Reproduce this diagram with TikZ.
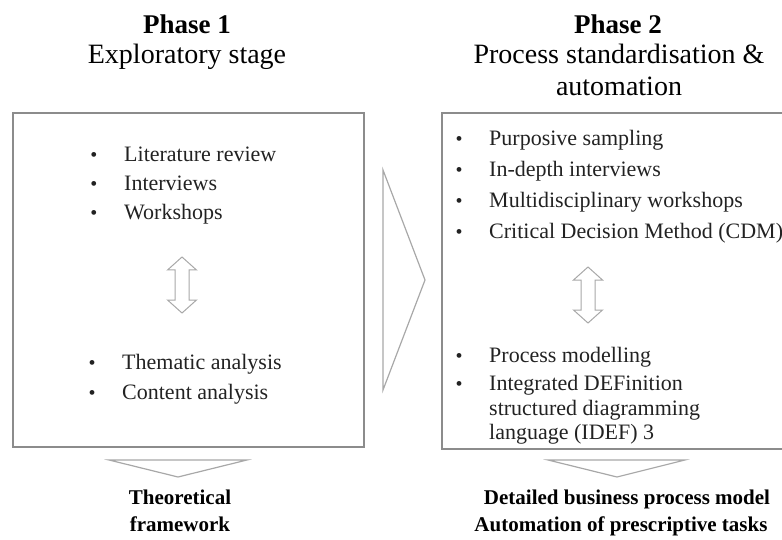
\documentclass[tikz,border=0pt]{standalone}
\usepackage{fontspec}
\setmainfont{Liberation Serif}
\usepackage{tikz}
\usetikzlibrary{positioning}

\definecolor{boxgray}{HTML}{8C8C8C}
\definecolor{arrowgray}{HTML}{A8A8A8}
\definecolor{itemtext}{HTML}{222222}

\tikzset{
  phasebox/.style={draw=boxgray, line width=1.5pt, minimum width=#1, inner sep=0pt},
  item/.style={anchor=base west, inner sep=0pt, text=itemtext, font=\fontsize{22}{26}\selectfont},
  bul/.style={anchor=base, inner sep=0pt, text=itemtext, font=\fontsize{20}{24}\selectfont},
  head/.style={anchor=base, inner sep=0pt, font=\fontsize{28}{33}\selectfont},
  result/.style={anchor=base, inner sep=0pt, font=\bfseries\fontsize{21}{26}\selectfont},
  chevron/.style={draw=arrowgray, line width=1.2pt, line join=miter}
}

% bullet item: name, x, y (baseline), text
\newcommand{\bitem}[4]{%
  \node[item] (#1) at (#2,#3) {#4};
  \node[bul] (#1b) at ([xshift=-30pt]#1.base west) {\textbullet};
}
% hollow up-down arrow: x centre, y top
\newcommand{\updown}[2]{%
  \draw[chevron, line width=1pt] (#1,#2) -- ++(14.5,13) -- ++(-7.5,0) -- ++(0,30) -- ++(7.5,0)
    -- ++(-14.5,13) -- ++(-14.5,-13) -- ++(7.5,0) -- ++(0,-30) -- ++(-7.5,0) -- cycle;
}

\begin{document}
\begin{tikzpicture}[x=1pt, y=-1pt]
  \useasboundingbox (0,0) rectangle (782,540); % same size as the reference

  % headings
  \node[head, font=\bfseries\fontsize{27}{33}\selectfont] (ph1) at (187,34) {Phase 1};
  \node[head] (ph1sub) at (187,64) {Exploratory stage};
  \node[head, font=\bfseries\fontsize{27}{33}\selectfont] (ph2) at (618,34) {Phase 2};
  \node[head] (ph2sub) at (619,64) {Process standardisation \&};
  \node[head] (ph2subb) at (619,96) {automation};

  % the two boxes (right edge of phase 2 runs off the page)
  \draw[phasebox] (13,113) rectangle (364,447);
  \draw[phasebox] (442,113) rectangle (786,449);

  % phase 1 items
  \bitem{lit}{124}{162}{Literature review}
  \bitem{intv}{124}{191}{Interviews}
  \bitem{wshop}{124}{220}{Workshops}
  \updown{182}{257}
  \bitem{them}{122}{369}{Thematic analysis}
  \bitem{cont}{122}{399}{Content analysis}

  % phase 2 items
  \bitem{purp}{489}{146}{Purposive sampling}
  \bitem{depth}{489}{177}{In-depth interviews}
  \bitem{multi}{489}{208}{Multidisciplinary workshops}
  \bitem{cdm}{489}{239}{Critical Decision Method (CDM)}
  \updown{588}{267}
  \bitem{pmod}{489}{362}{Process modelling}
  \bitem{idef}{489}{390}{Integrated DEFinition}
  \node[item] (idefb) at (489,415) {structured diagramming};
  \node[item] (idefc) at (489,439) {language (IDEF) 3};

  % block arrows
  \draw[chevron] (383,170) -- (425,280) -- (383,390) -- cycle; % phase 1 -> phase 2
  \draw[chevron] (109,460) -- (247,460) -- (178,477) -- cycle;
  \draw[chevron] (548,460) -- (685,460) -- (617,477) -- cycle;

  % outcomes
  \node[result] (theo) at (180,504) {Theoretical};
  \node[result] (frame) at (180,531) {framework};
  \node[result] (bpm) at (627,504) {Detailed business process model};
  \node[result] (auto) at (621,531) {Automation of prescriptive tasks};
\end{tikzpicture}
\end{document}
